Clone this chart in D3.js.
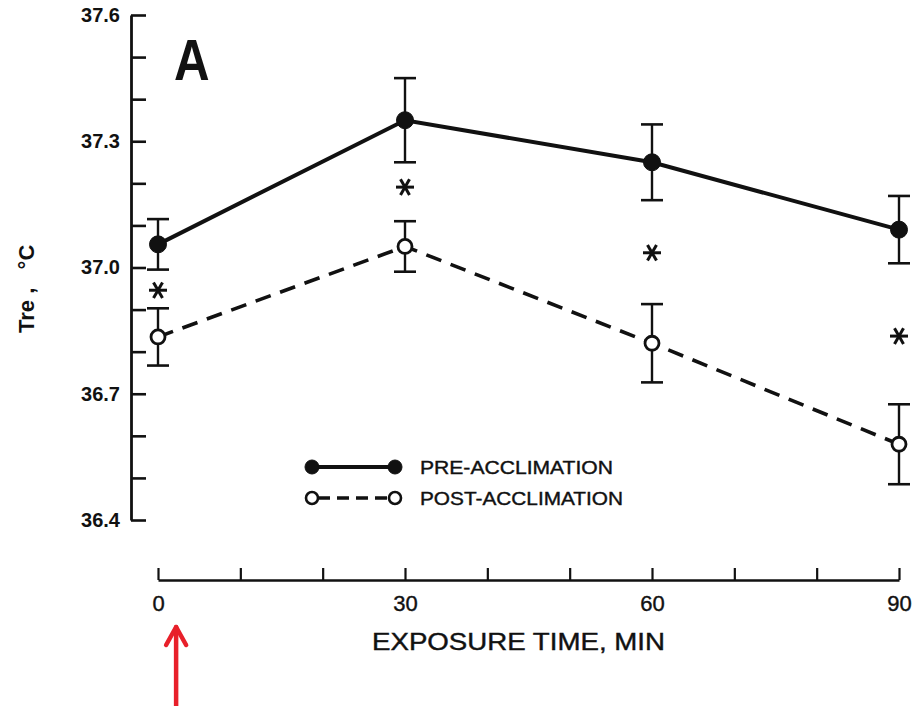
<!DOCTYPE html>
<html>
<head>
<meta charset="utf-8">
<script src="https://cdn.jsdelivr.net/npm/d3@7"></script>
<style>
  html, body { margin: 0; padding: 0; background: #fff; }
  svg { display: block; }
  text { font-family: "Liberation Sans", Arial, sans-serif; fill: #111; }
</style>
</head>
<body>
<svg id="chart" width="917" height="706"></svg>
<script>
// Exposure time (min) and rectal temperature (°C), mean ± error
const times = [0, 30, 60, 90];
const preMean = [37.055, 37.35, 37.25, 37.09];
const preErr  = [0.06, 0.10, 0.09, 0.08];
const postMean = [36.835, 37.05, 36.82, 36.58];
const postErr  = [0.068, 0.06, 0.093, 0.095];
// Significance markers (time, temperature placement)
const sigTimes = [0, 30, 60, 90];
const sigLevels = [36.946, 37.191, 37.035, 36.837];
// Axis ticks
const yTickValues = d3.range(36.4, 37.6001, 0.1).map(v => +v.toFixed(1));
const yLabelled = [36.4, 36.7, 37.0, 37.3, 37.6];
const xTickValues = d3.range(0, 91, 10);
const xLabelled = [0, 30, 60, 90];
const seriesNames = ["PRE-ACCLIMATION", "POST-ACCLIMATION"];
const markerTime = 2.2;

const svg = d3.select("#chart");
const ink = "#111";

const x = d3.scaleLinear().domain([0, 90]).range([158, 899]);
const y = d3.scaleLinear().domain([36.4, 37.6]).range([520, 15]);

// Y axis: ticks pointing inward
const yAxis = d3.axisLeft(y)
  .tickValues(yTickValues)
  .tickSize(-15)
  .tickSizeOuter(0)
  .tickPadding(11)
  .tickFormat(d => yLabelled.some(v => Math.abs(v - d) < 1e-6) ? d3.format(".1f")(d) : "");
const gy = svg.append("g").attr("transform", "translate(131,0)").call(yAxis);
gy.select(".domain").attr("stroke", ink).attr("stroke-width", 2.8);
gy.selectAll(".tick line").attr("stroke", ink).attr("stroke-width", 2.6);
gy.selectAll(".tick text")
  .attr("font-family", "'DejaVu Sans', sans-serif")
  .attr("font-size", 20).attr("font-weight", "bold").attr("fill", ink);

// X axis: separate baseline, ticks pointing up
const xAxis = d3.axisBottom(x)
  .tickValues(xTickValues)
  .tickSize(-12)
  .tickSizeOuter(0)
  .tickPadding(15)
  .tickFormat(d => xLabelled.includes(d) ? d : "");
const gx = svg.append("g").attr("transform", "translate(0,580)").call(xAxis);
gx.select(".domain").attr("stroke", ink).attr("stroke-width", 2.6);
gx.selectAll(".tick line").attr("stroke", ink).attr("stroke-width", 2.2);
gx.selectAll(".tick text").attr("font-size", 22).attr("fill", ink)
  .attr("stroke", ink).attr("stroke-width", 0.4);

// Axis titles
svg.append("text")
  .attr("x", 372).attr("y", 650)
  .attr("font-size", 23)
  .attr("stroke", ink).attr("stroke-width", 0.4)
  .attr("textLength", 293)
  .attr("lengthAdjust", "spacingAndGlyphs")
  .text("EXPOSURE TIME, MIN");

svg.append("text")
  .attr("transform", "translate(34,333) rotate(-90)")
  .attr("font-size", 22)
  .attr("font-weight", "bold")
  .attr("xml:space", "preserve")
  .style("white-space", "pre")
  .text("Tre ,   °C");

// Panel letter
svg.append("text")
  .attr("transform", "translate(174,80) scale(0.85,1)")
  .attr("font-size", 58)
  .attr("font-weight", "bold")
  .text("A");

// Series
const series = [
  { name: seriesNames[0], mean: preMean, err: preErr, filled: true, dash: null, width: 4 },
  { name: seriesNames[1], mean: postMean, err: postErr, filled: false, dash: "16,10", width: 3.6 }
];

const line = d3.line().x(d => x(d.t)).y(d => y(d.v));

series.forEach(s => {
  const pts = times.map((t, i) => ({ t, v: s.mean[i], e: s.err[i] }));
  const g = svg.append("g");
  // error bars
  const eb = g.selectAll(".eb").data(pts).enter().append("g");
  eb.append("line")
    .attr("x1", d => x(d.t)).attr("x2", d => x(d.t))
    .attr("y1", d => y(d.v + d.e)).attr("y2", d => y(d.v - d.e))
    .attr("stroke", ink).attr("stroke-width", 2.4);
  [1, -1].forEach(k => {
    eb.append("line")
      .attr("x1", d => x(d.t) - 11).attr("x2", d => x(d.t) + 11)
      .attr("y1", d => y(d.v + k * d.e)).attr("y2", d => y(d.v + k * d.e))
      .attr("stroke", ink).attr("stroke-width", 2.6);
  });
  // connecting line
  g.append("path")
    .attr("d", line(pts))
    .attr("fill", "none")
    .attr("stroke", ink)
    .attr("stroke-width", s.width)
    .attr("stroke-dasharray", s.dash);
  // markers
  g.selectAll("circle").data(pts).enter().append("circle")
    .attr("cx", d => x(d.t)).attr("cy", d => y(d.v))
    .attr("r", s.filled ? 8.5 : 7)
    .attr("fill", s.filled ? ink : "#fff")
    .attr("stroke", ink)
    .attr("stroke-width", s.filled ? 1 : 2.8);
});

// Significance asterisks
svg.selectAll(".sig").data(sigTimes.map((t, i) => ({ t, v: sigLevels[i] })))
  .enter().append("g")
  .attr("transform", d => `translate(${x(d.t)},${y(d.v)})`)
  .each(function () {
    const g = d3.select(this);
    [0, 60, 120].forEach(a => {
      g.append("line")
        .attr("x1", -9).attr("x2", 9).attr("y1", 0).attr("y2", 0)
        .attr("transform", `rotate(${a})`)
        .attr("stroke", ink).attr("stroke-width", 3);
    });
  });

// Legend
const legend = svg.append("g").attr("transform", "translate(312,467)");
series.forEach((s, i) => {
  const row = legend.append("g").attr("transform", `translate(0,${i * 31})`);
  row.append("line")
    .attr("x1", 0).attr("x2", 83).attr("y1", 0).attr("y2", 0)
    .attr("stroke", ink).attr("stroke-width", s.filled ? 3.8 : 3.4)
    .attr("stroke-dasharray", s.filled ? null : "12,7")
    .attr("stroke-dashoffset", s.filled ? 0 : -6);
  [0, 83].forEach(cx => {
    row.append("circle")
      .attr("cx", cx).attr("cy", 0)
      .attr("r", s.filled ? 7 : 6)
      .attr("fill", s.filled ? ink : "#fff")
      .attr("stroke", ink).attr("stroke-width", s.filled ? 1 : 2.6);
  });
  row.append("text")
    .attr("x", 108).attr("y", 7)
    .attr("font-size", 19)
    .attr("stroke", ink).attr("stroke-width", 0.4)
    .attr("textLength", i === 0 ? 193 : 203)
    .attr("lengthAdjust", "spacingAndGlyphs")
    .text(s.name);
});

// Red arrow marking the start of exposure
const ax = x(markerTime);
const arrow = svg.append("g").attr("stroke", "#e8202a").attr("stroke-width", 4.5)
  .attr("fill", "none").attr("stroke-linecap", "round").attr("stroke-linejoin", "round");
arrow.append("line").attr("x1", ax).attr("x2", ax).attr("y1", 627).attr("y2", 706);
arrow.append("path").attr("d", `M${ax - 10},645 L${ax},627 L${ax + 10},645`);
</script>
</body>
</html>
